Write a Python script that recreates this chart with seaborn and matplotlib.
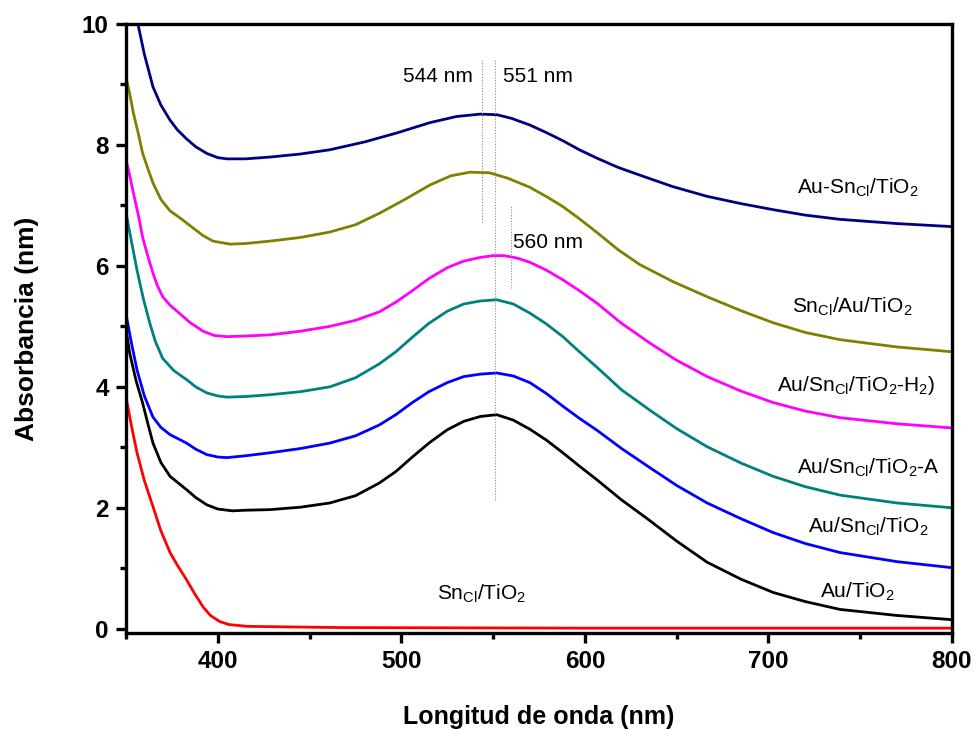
import matplotlib
matplotlib.use("Agg")
import matplotlib.pyplot as plt
from matplotlib.ticker import MultipleLocator
import seaborn as sns

# UV-Vis absorption spectra (wavelength in nm, absorbance)
navy_x = [350, 353, 356.5, 360, 364.7, 369, 374, 378, 383, 388, 394, 400, 405, 415, 428.5, 445, 461, 480,
          497.7, 515.7, 530, 543, 552, 560, 570, 580, 588, 597, 606.7, 618, 630, 648, 666.6, 685, 702.6,
          720, 739, 770, 800]
navy_y = [10.8, 10.4, 10.0, 9.5, 8.96, 8.66, 8.41, 8.25, 8.10, 7.97, 7.86, 7.79, 7.77, 7.77, 7.80, 7.85, 7.92, 8.05,
          8.20, 8.37, 8.47, 8.51, 8.50, 8.44, 8.33, 8.19, 8.07, 7.92, 7.78, 7.63, 7.50, 7.31, 7.15, 7.03, 6.93,
          6.84, 6.77, 6.70, 6.65]

olive_x = [350, 352, 354, 357, 359, 362, 364.7, 369, 374, 380, 386, 392, 397.4, 406.7, 415, 428.5, 445, 461,
           475, 488, 502, 515.7, 527, 537.5, 548, 558, 570, 580, 588, 597, 606.7, 618, 630, 648, 666.6, 685,
           702.6, 720, 739, 770, 800]
olive_y = [9.12, 8.85, 8.53, 8.15, 7.87, 7.60, 7.37, 7.10, 6.91, 6.78, 6.64, 6.50, 6.41, 6.36, 6.37, 6.41, 6.47, 6.56,
           6.68, 6.87, 7.10, 7.34, 7.49, 7.55, 7.54, 7.45, 7.30, 7.13, 6.98, 6.78, 6.55, 6.27, 6.02, 5.74, 5.49, 5.26,
           5.06, 4.90, 4.78, 4.66, 4.58]

magenta_x = [350, 352, 354, 357, 359, 362, 364.7, 367, 370, 374, 379, 385, 392, 398, 405, 415, 428.5, 445, 461,
             475, 488, 497, 506, 515, 525, 534, 543, 550, 556, 563, 570, 579, 588, 597, 606.7, 620, 635.6, 650,
             666.6, 685, 702.6, 720, 739, 770, 800]
magenta_y = [7.75, 7.50, 7.21, 6.80, 6.48, 6.15, 5.88, 5.68, 5.49, 5.35, 5.22, 5.06, 4.92, 4.85, 4.83, 4.84, 4.86, 4.92, 5.00,
             5.10, 5.24, 5.40, 5.59, 5.79, 5.97, 6.08, 6.14, 6.17, 6.17, 6.13, 6.06, 5.93, 5.77, 5.59, 5.38, 5.05, 4.72, 4.44,
             4.17, 3.93, 3.74, 3.60, 3.49, 3.39, 3.32]

teal_x = [350, 353, 356, 359.5, 363, 366, 370, 376, 383, 388, 394, 400, 405, 415, 428.5, 445, 461, 475, 488, 497,
          506, 515, 525, 534, 543, 552, 561, 570, 579, 588, 597, 606.7, 620, 635.6, 650, 666.6, 685, 702.6, 720,
          739, 770, 800]
teal_y = [6.88, 6.40, 5.93, 5.45, 5.05, 4.75, 4.47, 4.27, 4.12, 4.00, 3.90, 3.85, 3.83, 3.84, 3.87, 3.92, 4.00, 4.15, 4.38, 4.58,
          4.82, 5.05, 5.25, 5.37, 5.42, 5.44, 5.37, 5.22, 5.04, 4.83, 4.58, 4.32, 3.95, 3.61, 3.31, 3.01, 2.74, 2.52, 2.35,
          2.21, 2.08, 2.00]

blue_x = [350, 353, 356, 360, 364.7, 369, 374, 383, 388, 394, 400, 405, 415, 428.5, 445, 461, 475, 488, 497, 506,
          515, 525, 534, 543, 552, 561, 570, 579, 588, 597, 606.7, 620, 635.6, 650, 666.6, 685, 702.6, 720, 739,
          770, 800]
blue_y = [5.20, 4.72, 4.28, 3.85, 3.50, 3.33, 3.21, 3.07, 2.97, 2.88, 2.84, 2.83, 2.86, 2.91, 2.98, 3.07, 3.19, 3.37, 3.54, 3.74,
          3.92, 4.07, 4.17, 4.21, 4.23, 4.18, 4.07, 3.89, 3.68, 3.48, 3.28, 2.98, 2.66, 2.37, 2.08, 1.82, 1.59, 1.41, 1.26,
          1.11, 1.01]

black_x = [350, 352, 355.5, 359, 362, 364.7, 369, 374, 383, 388, 394, 400, 408, 415, 428.5, 445, 461, 475, 488, 497,
           506, 515, 525, 534, 543, 552, 561, 570, 579, 588, 597, 606.7, 620, 634, 650, 666.6, 685, 702.6, 720, 739,
           770, 800]
black_y = [4.95, 4.56, 4.10, 3.74, 3.38, 3.07, 2.75, 2.52, 2.30, 2.17, 2.05, 1.98, 1.95, 1.96, 1.97, 2.01, 2.08, 2.20, 2.41, 2.60,
           2.84, 3.07, 3.29, 3.43, 3.51, 3.54, 3.45, 3.30, 3.12, 2.91, 2.69, 2.46, 2.13, 1.82, 1.45, 1.10, 0.82, 0.60, 0.45, 0.32,
           0.22, 0.15]

red_x = [350, 353, 356, 360, 364.7, 369, 374, 378, 383, 387, 392, 396, 401, 406, 416, 440, 466.6, 600, 800]
red_y = [3.83, 3.35, 2.91, 2.45, 2.02, 1.62, 1.26, 1.05, 0.81, 0.60, 0.36, 0.22, 0.12, 0.07, 0.04, 0.03, 0.02, 0.01, 0.01]

series = [
    (navy_x, navy_y, "#000080"),
    (olive_x, olive_y, "#808000"),
    (magenta_x, magenta_y, "#ff00ff"),
    (teal_x, teal_y, "#008080"),
    (blue_x, blue_y, "#0000ff"),
    (black_x, black_y, "#000000"),
    (red_x, red_y, "#ff0000"),
]

# curve labels: (text, x, y)
labels = [
    (r"Au-Sn$_{\mathrm{Cl}}$/TiO$_{\mathrm{2}}$", 715.7, 7.19),
    (r"Sn$_{\mathrm{Cl}}$/Au/TiO$_{\mathrm{2}}$", 713.0, 5.22),
    (r"Au/Sn$_{\mathrm{Cl}}$/TiO$_{\mathrm{2}}$-H$_{\mathrm{2}}$)", 704.8, 3.93),
    (r"Au/Sn$_{\mathrm{Cl}}$/TiO$_{\mathrm{2}}$-A", 715.7, 2.56),
    (r"Au/Sn$_{\mathrm{Cl}}$/TiO$_{\mathrm{2}}$", 721.7, 1.59),
    (r"Au/TiO$_{\mathrm{2}}$", 728.0, 0.51),
    (r"Sn$_{\mathrm{Cl}}$/TiO$_{\mathrm{2}}$", 519.5, 0.48),
]

# peak markers: (wavelength, y from, y to, text, text x, text y)
peaks = [
    (544, 6.73, 9.40, "544 nm", 501.0, 9.04),
    (551, 2.13, 9.40, "551 nm", 555.4, 9.04),
    (560, 5.64, 7.00, "560 nm", 561.0, 6.30),
]

sns.set_style("ticks")
plt.rcParams["font.family"] = ["Liberation Sans", "DejaVu Sans"]
plt.rcParams["mathtext.fontset"] = "custom"
plt.rcParams["mathtext.rm"] = "Liberation Sans"
plt.rcParams["mathtext.it"] = "Liberation Sans"
plt.rcParams["mathtext.bf"] = "Liberation Sans:bold"
for key in ["text.color", "axes.labelcolor", "xtick.color", "ytick.color", "axes.edgecolor"]:
    plt.rcParams[key] = "black"

fig = plt.figure(figsize=(9.75, 7.3), dpi=100)
ax = fig.add_axes([126 / 975, 1 - 633 / 730, (952 - 126) / 975, (633 - 24) / 730])

for xs, ys, col in series:
    sns.lineplot(x=xs, y=ys, color=col, linewidth=2.0, ax=ax, legend=False)

for wl, y0, y1, txt, tx, ty in peaks:
    ax.plot([wl, wl], [y0, y1], linestyle=(0, (1, 1.5)), color="#8a8a8a", linewidth=0.8)
    ax.text(tx, ty, txt, fontsize=15, ha="left", va="baseline", color="black")

for txt, tx, ty in labels:
    ax.text(tx, ty, txt, fontsize=15, ha="left", va="baseline", color="black")

ax.set_xlim(350, 800)
ax.set_ylim(-0.07, 10)
ax.xaxis.set_major_locator(MultipleLocator(100))
ax.xaxis.set_minor_locator(MultipleLocator(50))
ax.yaxis.set_major_locator(MultipleLocator(2))
ax.yaxis.set_minor_locator(MultipleLocator(1))

for side in ["left", "right", "top", "bottom"]:
    ax.spines[side].set_visible(True)
    ax.spines[side].set_linewidth(2.4)
    ax.spines[side].set_color("black")

ax.tick_params(axis="both", which="major", direction="out", length=7.5, width=2.4,
               labelsize=17.5, color="black", labelcolor="black", pad=5)
ax.tick_params(axis="both", which="minor", direction="out", length=4, width=2.4, color="black")
ax.tick_params(top=False, right=False, which="both")
for lab in ax.get_xticklabels() + ax.get_yticklabels():
    lab.set_fontweight("bold")

ax.set_xlabel("Longitud de onda (nm)", fontsize=18, fontweight="bold", labelpad=23, color="black")
ax.set_ylabel("Absorbancia (nm)", fontsize=19, fontweight="bold", labelpad=31, color="black")

fig.savefig("out.png", dpi=100)
